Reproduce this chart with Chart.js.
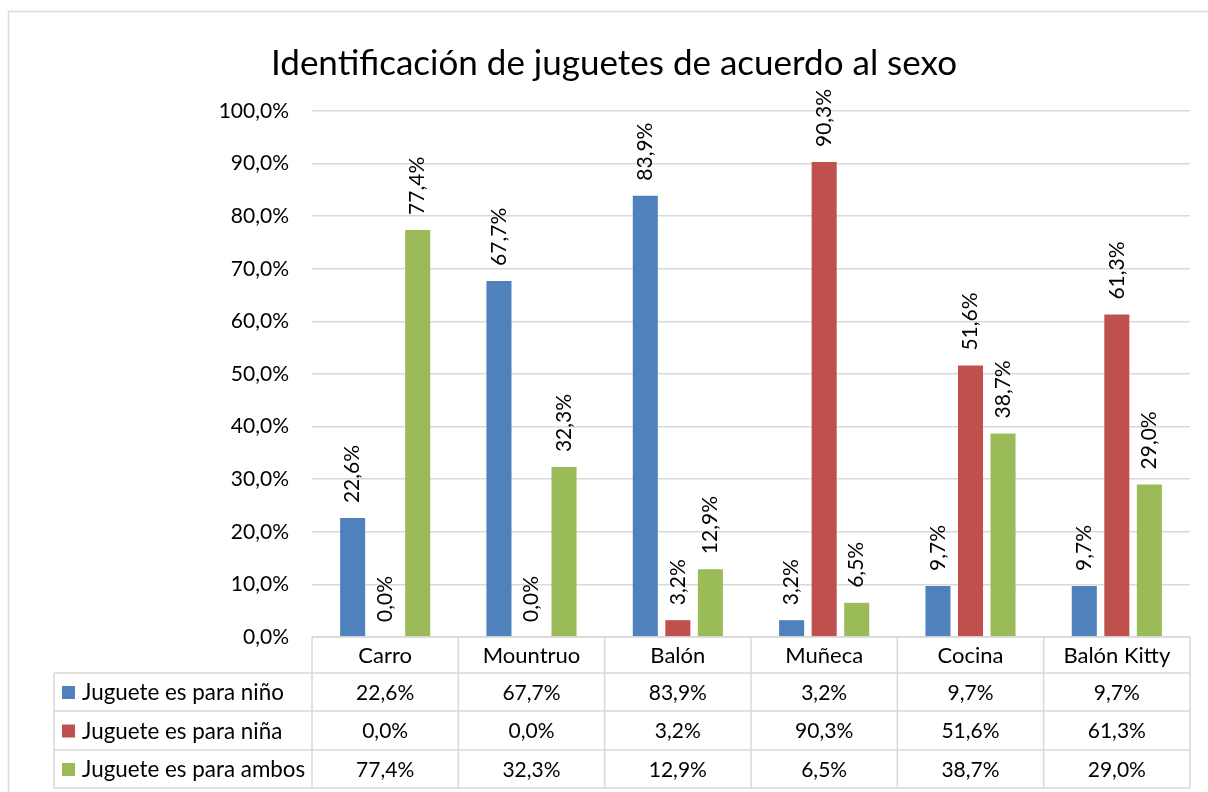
<!DOCTYPE html>
<html>
<head>
<meta charset="utf-8">
<script src="https://cdn.jsdelivr.net/npm/chart.js@4.4.1/dist/chart.umd.min.js"></script>
<style>
html,body{margin:0;padding:0;background:#fff;}
#wrap{width:1208px;height:792px;position:relative;}
</style>
</head>
<body>
<div id="wrap"><canvas id="c" width="1208" height="792"></canvas></div>
<script>
const titleText = 'Identificación de juguetes de acuerdo al sexo';
const categories = ['Carro', 'Mountruo', 'Balón', 'Muñeca', 'Cocina', 'Balón Kitty'];
const seriesNames = ['Juguete es para niño', 'Juguete es para niña', 'Juguete es para ambos'];
const ninoValues = [22.6, 67.7, 83.9, 3.2, 9.7, 9.7];
const ninaValues = [0.0, 0.0, 3.2, 90.3, 51.6, 61.3];
const ambosValues = [77.4, 32.3, 12.9, 6.5, 38.7, 29.0];
const seriesColors = ['#4F81BD', '#C0504D', '#9BBB59'];
const yTicks = [0, 10, 20, 30, 40, 50, 60, 70, 80, 90, 100];

const FONT = 'Lato';
const fmt = v => v.toFixed(1).replace('.', ',') + '%';

const chartBorder = {
  id: 'chartBorder',
  beforeDraw(chart) {
    const ctx = chart.ctx;
    ctx.save();
    ctx.fillStyle = '#fff';
    ctx.fillRect(0, 0, chart.width, chart.height);
    ctx.strokeStyle = '#D9D9D9';
    ctx.lineWidth = 1.5;
    ctx.strokeRect(8.5, 11.5, chart.width + 20, chart.height + 20);
    ctx.fillStyle = '#000';
    ctx.font = '35px ' + FONT;
    ctx.textAlign = 'center';
    ctx.textBaseline = 'alphabetic';
    ctx.fillText(titleText, 614, 75);
    ctx.restore();
  }
};

const barLabels = {
  id: 'barLabels',
  afterDatasetsDraw(chart) {
    const ctx = chart.ctx;
    ctx.save();
    ctx.font = '21px ' + FONT;
    ctx.fillStyle = '#000';
    ctx.textAlign = 'left';
    ctx.textBaseline = 'middle';
    chart.data.datasets.forEach((ds, di) => {
      const meta = chart.getDatasetMeta(di);
      meta.data.forEach((bar, i) => {
        ctx.save();
        ctx.translate(bar.x, bar.y - 15);
        ctx.rotate(-Math.PI / 2);
        ctx.fillText(fmt(ds.data[i]), 0, 0);
        ctx.restore();
      });
    });
    ctx.restore();
  }
};

const dataTable = {
  id: 'dataTable',
  afterDraw(chart) {
    const ctx = chart.ctx;
    const xs = chart.scales.x;
    const area = chart.chartArea;
    const n = categories.length;
    const cw = (area.right - area.left) / n;
    const left = 54;
    const rows = [area.bottom, area.bottom + 36, area.bottom + 74, area.bottom + 113, area.bottom + 151];
    ctx.save();
    ctx.strokeStyle = '#D9D9D9';
    ctx.lineWidth = 1.5;
    ctx.beginPath();
    ctx.moveTo(area.left, rows[0]); ctx.lineTo(area.right, rows[0]);
    for (let r = 1; r < rows.length; r++) {
      ctx.moveTo(left, rows[r]); ctx.lineTo(area.right, rows[r]);
    }
    for (let i = 0; i <= n; i++) {
      const x = area.left + i * cw;
      ctx.moveTo(x, rows[0]); ctx.lineTo(x, rows[rows.length - 1]);
    }
    ctx.moveTo(left, rows[1]); ctx.lineTo(left, rows[rows.length - 1]);
    ctx.stroke();

    ctx.fillStyle = '#000';
    ctx.font = '22px ' + FONT;
    ctx.textBaseline = 'middle';
    ctx.textAlign = 'center';
    categories.forEach((c, i) => {
      ctx.fillText(c, xs.getPixelForValue(i), (rows[0] + rows[1]) / 2 + 1);
    });
    const allValues = [ninoValues, ninaValues, ambosValues];
    allValues.forEach((vals, r) => {
      const cy = (rows[r + 1] + rows[r + 2]) / 2 + 1;
      ctx.textAlign = 'center';
      ctx.fillStyle = '#000';
      ctx.font = '21px ' + FONT;
      vals.forEach((v, i) => ctx.fillText(fmt(v), xs.getPixelForValue(i), cy));
      ctx.fillStyle = seriesColors[r];
      ctx.fillRect(62, cy - 7, 13, 13);
      ctx.fillStyle = '#000';
      ctx.textAlign = 'left';
      ctx.font = '22.4px ' + FONT;
      ctx.fillText(seriesNames[r], 82, cy);
    });
    ctx.restore();
  }
};

new Chart(document.getElementById('c'), {
  type: 'bar',
  data: {
    labels: categories,
    datasets: [
      { label: seriesNames[0], data: ninoValues, backgroundColor: seriesColors[0] },
      { label: seriesNames[1], data: ninaValues, backgroundColor: seriesColors[1] },
      { label: seriesNames[2], data: ambosValues, backgroundColor: seriesColors[2] }
    ]
  },
  options: {
    responsive: false,
    animation: false,
    devicePixelRatio: 1,
    layout: { padding: { left: 0, top: 111, right: 18, bottom: 155 } },
    datasets: { bar: { categoryPercentage: 0.667, barPercentage: 0.77 } },
    plugins: {
      legend: { display: false },
      tooltip: { enabled: false },
      title: { display: false }
    },
    scales: {
      x: { display: false },
      y: {
        min: 0, max: 100,
        afterFit(s) { s.width = 312; },
        afterBuildTicks(s) { s.ticks = yTicks.map(v => ({ value: v })); },
        border: { display: false },
        grid: { color: '#D9D9D9', lineWidth: 1.5, drawTicks: false },
        ticks: {
          padding: 23,
          color: '#000',
          font: { family: FONT, size: 21 },
          callback: v => fmt(v)
        }
      }
    }
  },
  plugins: [chartBorder, barLabels, dataTable]
});
</script>
</body>
</html>
